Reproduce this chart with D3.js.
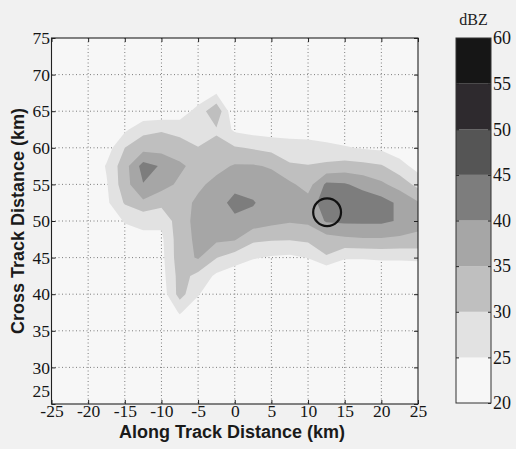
<!DOCTYPE html>
<html>
<head>
<meta charset="utf-8">
<script src="https://cdnjs.cloudflare.com/ajax/libs/d3/7.8.5/d3.min.js"></script>
<style>
  body { margin: 0; background: #f1f1f1; }
  svg { display: block; }
</style>
</head>
<body>
<div id="chart"></div>
<script>
// grid columns (along track, km) and rows (cross track, km)
const alongKm = [-20, -17.5, -15, -12.5, -10, -7.5, -5, -2.5, 0, 2.5, 5, 7.5, 10, 12.5, 15, 17.5, 20, 22.5, 25];
const crossKm = [70, 67.5, 65, 62.5, 60, 57.5, 55, 52.5, 50, 47.5, 45, 42.5, 40, 37.5, 35];

// reflectivity in dBZ, one row per crossKm value
const dbzRows = [
  [19, 19, 19, 19.5, 20, 20, 20, 20, 19.5, 19.5, 19, 19, 19, 19, 19, 19, 19, 19, 19],
  [19, 19, 19.5, 20, 20.5, 21, 21, 24.5, 20, 19.5, 19.5, 19.5, 19, 19, 19, 19, 19, 19, 19],
  [19, 19.5, 20, 21, 21, 22, 27, 34, 20, 20, 20, 20, 20, 19.5, 19.5, 19, 19, 19, 19],
  [19, 20, 24, 28.5, 29.5, 28.5, 27, 29.5, 24, 23, 22.5, 22, 22, 21.5, 21, 20.5, 20, 19.5, 19],
  [19.5, 22.5, 30, 33, 33, 32, 30.2, 31, 30.5, 29.5, 28.5, 28, 27.5, 26.5, 25.5, 24.5, 24, 22, 20.5],
  [19.5, 25.5, 33, 42, 39.5, 36, 33, 33.5, 35.5, 35.5, 34.5, 30.5, 30.2, 31, 32, 31.5, 30.5, 27, 23],
  [19.5, 24.5, 33, 39.8, 37, 34, 34, 36.5, 38.5, 37.5, 37.5, 36, 33, 41, 40.5, 38.5, 36, 33, 28.5],
  [19.5, 24, 30.5, 34, 31.5, 33, 36, 38, 41.5, 40.5, 37, 37, 37, 43, 44, 43, 42, 39, 35.5],
  [19, 21, 25.5, 26, 26, 33, 36.5, 37.5, 39, 38, 36.5, 35.5, 36, 40.5, 41, 41, 41, 39.5, 37],
  [19, 20, 22, 24, 24, 33, 36, 36, 35.5, 31, 30.5, 30.3, 31, 33, 34, 34.5, 34.5, 34, 33.5],
  [19, 19.5, 20, 21, 23.5, 33, 35.5, 30.2, 27.5, 25.5, 24.5, 24, 25.2, 29.5, 25.5, 25.5, 26, 26, 26.5],
  [19, 19, 19.5, 20, 23, 32, 28.5, 24, 22, 20, 20, 19.5, 19, 19, 20, 20, 19.5, 19.5, 19],
  [19, 19, 19, 19.5, 22, 32, 25.5, 20, 19, 19, 19, 19, 19, 19, 19, 19, 19, 19, 19],
  [19, 19, 19, 19, 20, 25.5, 21, 19, 19, 19, 19, 19, 19, 19, 19, 19, 19, 19, 19],
  [19, 19, 19, 19, 19, 20, 19.5, 19, 19, 19, 19, 19, 19, 19, 19, 19, 19, 19, 19]
];

// contour levels and their grey shades
const levels = [20, 25, 30, 35, 40, 45, 50, 55, 60];
const levelColors = ["#f7f7f7", "#e2e2e2", "#bfbfbf", "#a6a6a6", "#7d7d7d", "#555555", "#2e2a2e", "#161616"];

const xTicks = [-25, -20, -15, -10, -5, 0, 5, 10, 15, 20, 25];
const yTicks = [25, 30, 35, 40, 45, 50, 55, 60, 65, 70, 75];

// marked cell
const cellCenter = [12.6, 51.2];
const cellRadiusKm = 1.9;

var width = 516, height = 449;
var plotLeft = 51.5, plotRight = 418, plotTop = 38, plotBottom = 404;

var svg = d3.select("#chart").append("svg")
  .attr("width", width)
  .attr("height", height);

var x = d3.scaleLinear().domain([-25, 25]).range([plotLeft, plotRight]);
var y = d3.scaleLinear().domain([25, 75]).range([plotBottom, plotTop]);

svg.append("clipPath").attr("id", "plotclip")
  .append("rect")
  .attr("x", plotLeft).attr("y", plotTop)
  .attr("width", plotRight - plotLeft).attr("height", plotBottom - plotTop);

var color = d3.scaleThreshold().domain(levels.slice(1, -1)).range(levelColors);

// lowest band fills the whole plot
svg.append("rect")
  .attr("x", plotLeft).attr("y", plotTop)
  .attr("width", plotRight - plotLeft).attr("height", plotBottom - plotTop)
  .attr("fill", levelColors[0]);

// dotted grid
var grid = svg.append("g")
  .attr("stroke", "#6f6f6f")
  .attr("stroke-width", 0.9)
  .attr("stroke-dasharray", "1,2.5");

grid.selectAll(".gx")
  .data(xTicks.slice(1, -1))
  .enter().append("line")
  .attr("x1", d => x(d)).attr("x2", d => x(d))
  .attr("y1", plotTop).attr("y2", plotBottom);

grid.selectAll(".gy")
  .data(yTicks.slice(1, -1))
  .enter().append("line")
  .attr("y1", d => y(d)).attr("y2", d => y(d))
  .attr("x1", plotLeft).attr("x2", plotRight);

// filled contours
var nx = alongKm.length, ny = crossKm.length;
var contours = d3.contours()
  .size([nx, ny])
  .thresholds(levels.slice(1, -1))(dbzRows.flat());

// grid index space -> pixels (sample i sits at i + 0.5)
var gx = d3.scaleLinear().domain([0.5, nx - 0.5]).range([x(alongKm[0]), x(alongKm[nx - 1])]);
var gy = d3.scaleLinear().domain([0.5, ny - 0.5]).range([y(crossKm[0]), y(crossKm[ny - 1])]);

var path = d3.geoPath(d3.geoTransform({
  point: function (px, py) { this.stream.point(gx(px), gy(py)); }
}));

svg.append("g")
  .attr("clip-path", "url(#plotclip)")
  .selectAll("path")
  .data(contours.filter(c => c.coordinates.length))
  .enter().append("path")
  .attr("d", path)
  .attr("fill", d => color(d.value));

// circle round the cell
svg.append("circle")
  .attr("cx", x(cellCenter[0]))
  .attr("cy", y(cellCenter[1]))
  .attr("r", x(cellCenter[0] + cellRadiusKm) - x(cellCenter[0]))
  .attr("fill", "none")
  .attr("stroke", "#111")
  .attr("stroke-width", 2.2);

// axes, ticks pointing inward
var tickFont = "'Liberation Serif', 'Times New Roman', serif";

function styleAxis(g) {
  g.attr("font-family", tickFont).attr("font-size", 17.5);
  g.select(".domain").remove();
  g.selectAll(".tick line").attr("stroke", "#222");
  g.selectAll(".tick text").attr("fill", "#151515");
}

svg.append("g")
  .attr("transform", "translate(0," + plotBottom + ")")
  .call(d3.axisBottom(x).tickValues(xTicks).tickFormat(d => String(d)).tickSizeInner(-4).tickSizeOuter(0).tickPadding(1))
  .call(styleAxis);

var yAxisG = svg.append("g")
  .attr("transform", "translate(" + plotLeft + ",0)")
  .call(d3.axisLeft(y).tickValues(yTicks).tickFormat(d => String(d)).tickSizeInner(-4).tickSizeOuter(0).tickPadding(1.5))
  .call(styleAxis);

// lift the bottom label so it sits above the x labels
yAxisG.selectAll(".tick text").filter(d => d === yTicks[0]).attr("dy", "-0.42em");

svg.append("g")
  .attr("transform", "translate(0," + plotTop + ")")
  .call(d3.axisTop(x).tickValues(xTicks).tickFormat("").tickSizeInner(-4).tickSizeOuter(0))
  .call(styleAxis);

svg.append("g")
  .attr("transform", "translate(" + plotRight + ",0)")
  .call(d3.axisRight(y).tickValues(yTicks).tickFormat("").tickSizeInner(-4).tickSizeOuter(0))
  .call(styleAxis);

svg.append("rect")
  .attr("x", plotLeft).attr("y", plotTop)
  .attr("width", plotRight - plotLeft).attr("height", plotBottom - plotTop)
  .attr("fill", "none")
  .attr("stroke", "#222")
  .attr("stroke-width", 1.1);

// axis titles
var titleFont = "'Liberation Sans', Arial, sans-serif";

svg.append("text")
  .attr("x", 232)
  .attr("y", 437.5)
  .attr("text-anchor", "middle")
  .attr("font-family", titleFont)
  .attr("font-weight", "bold")
  .attr("font-size", 18)
  .attr("fill", "#1a1a1a")
  .text("Along Track Distance (km)");

svg.append("text")
  .attr("transform", "translate(24," + ((plotTop + plotBottom) / 2) + ")rotate(-90)")
  .attr("text-anchor", "middle")
  .attr("font-family", titleFont)
  .attr("font-weight", "bold")
  .attr("font-size", 18)
  .attr("fill", "#1a1a1a")
  .text("Cross Track Distance (km)");

// colour bar
var cbLeft = 456, cbRight = 491;
var cb = d3.scaleLinear().domain([levels[0], levels[levels.length - 1]]).range([403, plotTop]);

svg.append("g")
  .selectAll("rect")
  .data(d3.pairs(levels))
  .enter().append("rect")
  .attr("x", cbLeft)
  .attr("y", d => cb(d[1]))
  .attr("width", cbRight - cbLeft)
  .attr("height", d => cb(d[0]) - cb(d[1]))
  .attr("fill", d => color(d[0]));

svg.append("g")
  .attr("transform", "translate(" + cbRight + ",0)")
  .call(d3.axisRight(cb).tickValues(levels).tickFormat(d => String(d)).tickSizeInner(-3).tickSizeOuter(0).tickPadding(2))
  .call(styleAxis)
  .attr("font-size", 18);

svg.append("g")
  .attr("transform", "translate(" + cbLeft + ",0)")
  .call(d3.axisLeft(cb).tickValues(levels.slice(1, -1)).tickFormat("").tickSizeInner(-3).tickSizeOuter(0))
  .call(styleAxis);

svg.append("rect")
  .attr("x", cbLeft).attr("y", cb(60))
  .attr("width", cbRight - cbLeft).attr("height", cb(20) - cb(60))
  .attr("fill", "none")
  .attr("stroke", "#333")
  .attr("stroke-width", 1);

svg.append("text")
  .attr("x", (cbLeft + cbRight) / 2)
  .attr("y", 25)
  .attr("text-anchor", "middle")
  .attr("font-family", tickFont)
  .attr("font-size", 16)
  .attr("fill", "#222")
  .text("dBZ");
</script>
</body>
</html>
